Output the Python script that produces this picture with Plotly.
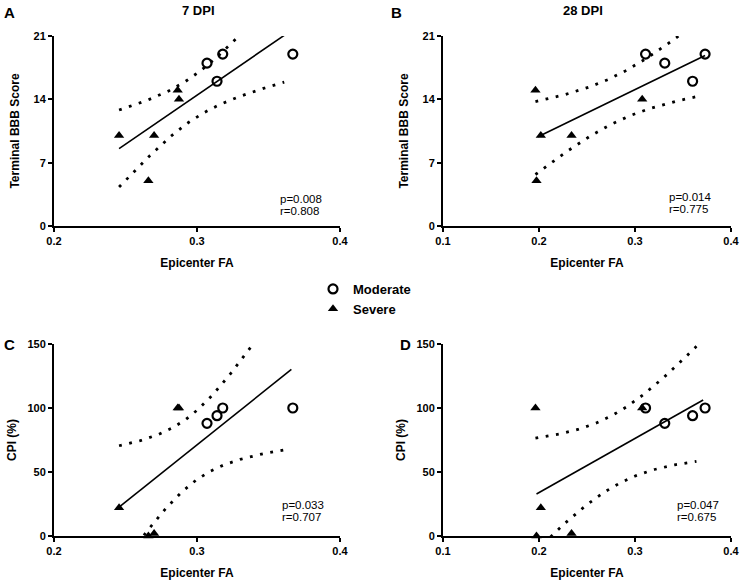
import numpy as np
import plotly.graph_objects as go

# Epicenter FA per animal (7 DPI used in A and C, 28 DPI in B and D)
fa_mod_7 = [0.307, 0.314, 0.318, 0.367]
fa_sev_7 = [0.2455, 0.266, 0.270, 0.2865, 0.2874]
fa_mod_28 = [0.311, 0.331, 0.360, 0.373]
fa_sev_28 = [0.1963, 0.1974, 0.2019, 0.2339, 0.3075]

# terminal BBB score
bbb_mod_7 = [18, 16, 19, 19]
bbb_sev_7 = [10, 5, 10, 15, 14]
bbb_mod_28 = [19, 18, 16, 19]
bbb_sev_28 = [15, 5, 10, 10, 14]

# CPI (%)
cpi_mod_7 = [88, 94, 100, 100]
cpi_sev_7 = [22, 0, 2, 100, 100]
cpi_mod_28 = [100, 88, 94, 100]
cpi_sev_28 = [100, 0, 22, 2, 100]

# x span of the fitted line and of the 95% band
line_span = {"A": [0.2455, 0.361], "B": [0.199, 0.373], "C": [0.2455, 0.366], "D": [0.1974, 0.371]}
band_span = {"A": [0.2455, 0.361], "B": [0.1963, 0.365], "C": [0.2455, 0.364], "D": [0.1963, 0.364]}

stats = {"A": ("p=0.008", "r=0.808"), "B": ("p=0.014", "r=0.775"),
         "C": ("p=0.033", "r=0.707"), "D": ("p=0.047", "r=0.675")}

T_CRIT = 2.365  # t(0.975, df=7)
FONT = "Liberation Sans, Arial, sans-serif"
W, H = 741, 582


def fit_band(x, y, xs):
    x = np.asarray(x, float)
    y = np.asarray(y, float)
    n = len(x)
    slope, icpt = np.polyfit(x, y, 1)
    resid = y - (slope * x + icpt)
    s = np.sqrt(np.sum(resid ** 2) / (n - 2))
    sxx = np.sum((x - x.mean()) ** 2)
    pred = slope * xs + icpt
    half = T_CRIT * s * np.sqrt(1.0 / n + (xs - x.mean()) ** 2 / sxx)
    return pred, pred - half, pred + half


panels = [
    ("A", "x", "y", fa_mod_7, fa_sev_7, bbb_mod_7, bbb_sev_7),
    ("B", "x2", "y2", fa_mod_28, fa_sev_28, bbb_mod_28, bbb_sev_28),
    ("C", "x3", "y3", fa_mod_7, fa_sev_7, cpi_mod_7, cpi_sev_7),
    ("D", "x4", "y4", fa_mod_28, fa_sev_28, cpi_mod_28, cpi_sev_28),
]

fig = go.Figure()

for key, xa, ya, fm, fs, ym, ys in panels:
    xall = fm + fs
    yall = ym + ys
    lx = np.linspace(line_span[key][0], line_span[key][1], 60)
    pred, _, _ = fit_band(xall, yall, lx)
    bx = np.linspace(band_span[key][0], band_span[key][1], 120)
    _, lo, hi = fit_band(xall, yall, bx)

    for yy in (lo, hi):
        fig.add_trace(go.Scatter(x=bx, y=yy, mode="lines", xaxis=xa, yaxis=ya,
                                 line=dict(color="black", width=2.8, dash="2.8px,7.6px"),
                                 showlegend=False, hoverinfo="skip"))
    fig.add_trace(go.Scatter(x=lx, y=pred, mode="lines", xaxis=xa, yaxis=ya,
                             line=dict(color="black", width=1.6),
                             showlegend=False, hoverinfo="skip"))
    fig.add_trace(go.Scatter(x=fs, y=ys, mode="markers", xaxis=xa, yaxis=ya,
                             name="Severe", legendgroup="sev", legendrank=2,
                             showlegend=(key == "A"), cliponaxis=False,
                             marker=dict(symbol="triangle-up", size=9, color="black")))
    fig.add_trace(go.Scatter(x=fm, y=ym, mode="markers", xaxis=xa, yaxis=ya,
                             name="Moderate", legendgroup="mod", legendrank=1,
                             showlegend=(key == "A"), cliponaxis=False,
                             marker=dict(symbol="circle-open", size=9, color="black",
                                         line=dict(width=2.2, color="black"))))

axis_style = dict(showline=True, linecolor="black", linewidth=2, ticks="outside",
                  ticklen=4, tickwidth=2, tickcolor="black", showgrid=False,
                  zeroline=False, fixedrange=True, automargin=False,
                  ticklabeloverflow="allow",
                  tickfont=dict(family=FONT, size=11, color="black", weight="bold"))
title_font = dict(family=FONT, size=12, color="black", weight="bold")

xdom_l = [54 / W, 340 / W]
xdom_r = [443 / W, 731 / W]
ydom_t = [1 - 226 / H, 1 - 36 / H]
ydom_b = [1 - 536 / H, 1 - 344 / H]

fa_ticks_7 = [0.2, 0.3, 0.4]
fa_ticks_28 = [0.1, 0.2, 0.3, 0.4]
bbb_ticks = [0, 7, 14, 21]
cpi_ticks = [0, 50, 100, 150]

layout_axes = {}
for i, (xd, yd, fr, ft, yr, yt, ytitle, stand) in enumerate([
    (xdom_l, ydom_t, [0.2, 0.4], fa_ticks_7, [0, 21], bbb_ticks, "Terminal BBB Score", 11),
    (xdom_r, ydom_t, [0.1, 0.4], fa_ticks_28, [0, 21], bbb_ticks, "Terminal BBB Score", 11),
    (xdom_l, ydom_b, [0.2, 0.4], fa_ticks_7, [0, 150], cpi_ticks, "CPI (%)", 8),
    (xdom_r, ydom_b, [0.1, 0.4], fa_ticks_28, [0, 150], cpi_ticks, "CPI (%)", 8),
]):
    sfx = "" if i == 0 else str(i + 1)
    layout_axes["xaxis" + sfx] = dict(axis_style, domain=xd, range=fr, tickvals=ft,
                                      anchor="y" + sfx,
                                      title=dict(text="Epicenter FA", font=title_font, standoff=12))
    layout_axes["yaxis" + sfx] = dict(axis_style, domain=yd, range=yr, tickvals=yt,
                                      anchor="x" + sfx,
                                      title=dict(text=ytitle, font=title_font, standoff=stand))

fig.update_layout(**layout_axes)

annotations = []
# panel letters and titles
for letter, x, y in [("A", 9, 12), ("B", 397, 12), ("C", 9, 344), ("D", 405, 344)]:
    annotations.append(dict(text="<b>%s</b>" % letter, x=x / W, y=1 - y / H,
                            xref="paper", yref="paper", showarrow=False,
                            xanchor="center", yanchor="middle",
                            font=dict(family=FONT, size=15, color="black")))
for title, x in [("7 DPI", 198), ("28 DPI", 583)]:
    annotations.append(dict(text="<b>%s</b>" % title, x=x / W, y=1 - 10 / H,
                            xref="paper", yref="paper", showarrow=False,
                            xanchor="center", yanchor="middle",
                            font=dict(family=FONT, size=13, color="black")))
# p and r values
stat_pos = {"A": ("x", "y", 0.783, 0.108, 190), "B": ("x2", "y2", 0.777, 0.12, 190),
            "C": ("x3", "y3", 0.791, 0.132, 192), "D": ("x4", "y4", 0.805, 0.132, 192)}
for key, (xa, ya, px, py, hpx) in stat_pos.items():
    for j, txt in enumerate(stats[key]):
        annotations.append(dict(text=txt, x=px, y=py + (6 if j == 0 else -6) / hpx,
                                xref=xa + " domain", yref=ya + " domain",
                                xanchor="left", yanchor="middle", showarrow=False,
                                font=dict(family=FONT, size=11.5, color="black")))

fig.update_layout(
    width=W, height=H,
    margin=dict(l=0, r=0, t=0, b=0),
    paper_bgcolor="white", plot_bgcolor="white",
    annotations=annotations,
    legend=dict(x=313 / W, y=1 - 274 / H, xanchor="left", yanchor="top",
                font=dict(family=FONT, size=13, color="black", weight="bold"),
                tracegroupgap=0, itemclick=False, itemdoubleclick=False,
                bgcolor="rgba(0,0,0,0)"),
)

# drop the browser's default body margin so the figure sits at the page corner
fig.write_html("out.html", config={"displayModeBar": False},
               post_script="document.body.style.margin='0';")
